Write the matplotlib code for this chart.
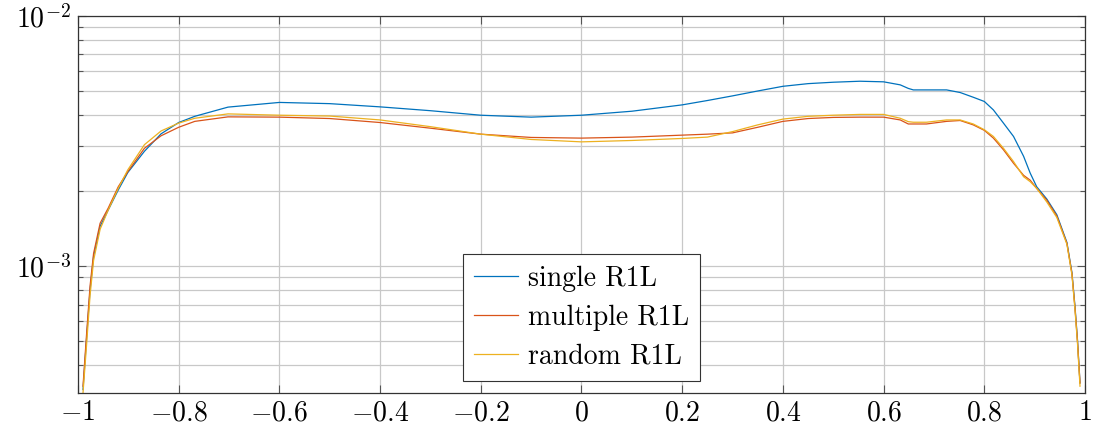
import matplotlib
matplotlib.use('Agg')
import matplotlib.pyplot as plt
import matplotlib.ticker as mticker
import numpy as np

plt.rcParams['font.family'] = ['cmr10', 'DejaVu Serif']
plt.rcParams['mathtext.fontset'] = 'cm'
plt.rcParams['axes.formatter.use_mathtext'] = True

x = [-0.99, -0.983, -0.976, -0.969, -0.956, -0.94, -0.92, -0.901, -0.868, -0.835,
     -0.8, -0.768, -0.702, -0.6, -0.5, -0.4, -0.3, -0.2, -0.1, 0.0,
     0.1, 0.2, 0.25, 0.3, 0.35, 0.4, 0.45, 0.5, 0.553, 0.6,
     0.633, 0.649, 0.659, 0.685, 0.725, 0.752, 0.778, 0.8, 0.818, 0.838,
     0.858, 0.878, 0.891, 0.904, 0.924, 0.944, 0.964, 0.974, 0.98, 0.985, 0.99]

single = [3.2e-4, 5.1e-4, 8.0e-4, 1.09e-3, 1.44e-3, 1.67e-3, 2.01e-3, 2.36e-3, 2.87e-3, 3.37e-3,
          3.74e-3, 3.96e-3, 4.31e-3, 4.5e-3, 4.45e-3, 4.32e-3, 4.17e-3, 4.0e-3, 3.93e-3, 4.0e-3,
          4.15e-3, 4.4e-3, 4.58e-3, 4.78e-3, 5.0e-3, 5.22e-3, 5.35e-3, 5.42e-3, 5.47e-3, 5.44e-3,
          5.29e-3, 5.12e-3, 5.05e-3, 5.05e-3, 5.05e-3, 4.93e-3, 4.72e-3, 4.54e-3, 4.2e-3, 3.72e-3,
          3.29e-3, 2.74e-3, 2.35e-3, 2.07e-3, 1.85e-3, 1.6e-3, 1.24e-3, 9.4e-4, 6.9e-4, 5.06e-4, 3.4e-4]

multiple = [3.3e-4, 5.3e-4, 8.3e-4, 1.12e-3, 1.48e-3, 1.70e-3, 2.07e-3, 2.38e-3, 2.95e-3, 3.31e-3,
            3.58e-3, 3.78e-3, 3.94e-3, 3.93e-3, 3.88e-3, 3.74e-3, 3.55e-3, 3.36e-3, 3.26e-3, 3.24e-3,
            3.27e-3, 3.33e-3, 3.36e-3, 3.40e-3, 3.58e-3, 3.78e-3, 3.88e-3, 3.92e-3, 3.93e-3, 3.93e-3,
            3.83e-3, 3.69e-3, 3.69e-3, 3.69e-3, 3.78e-3, 3.81e-3, 3.66e-3, 3.48e-3, 3.24e-3, 2.91e-3,
            2.57e-3, 2.3e-3, 2.2e-3, 2.04e-3, 1.83e-3, 1.58e-3, 1.23e-3, 9.3e-4, 6.8e-4, 5.0e-4, 3.4e-4]

random_ = [3.1e-4, 4.8e-4, 7.6e-4, 1.05e-3, 1.4e-3, 1.67e-3, 2.04e-3, 2.42e-3, 3.05e-3, 3.46e-3,
           3.72e-3, 3.89e-3, 4.05e-3, 4.0e-3, 3.97e-3, 3.83e-3, 3.6e-3, 3.36e-3, 3.2e-3, 3.13e-3,
           3.17e-3, 3.23e-3, 3.27e-3, 3.44e-3, 3.66e-3, 3.86e-3, 3.96e-3, 4.0e-3, 4.03e-3, 4.03e-3,
           3.89e-3, 3.77e-3, 3.75e-3, 3.75e-3, 3.83e-3, 3.83e-3, 3.69e-3, 3.5e-3, 3.29e-3, 2.95e-3,
           2.61e-3, 2.27e-3, 2.17e-3, 2.04e-3, 1.8e-3, 1.56e-3, 1.22e-3, 9.2e-4, 6.7e-4, 4.9e-4, 3.3e-4]

labels = ['single R1L', 'multiple R1L', 'random R1L']
colours = ['#0072BD', '#D95319', '#EDB120']

xticks = [-1, -0.8, -0.6, -0.4, -0.2, 0, 0.2, 0.4, 0.6, 0.8, 1]
xticklabels = ['$-1$', '$-0.8$', '$-0.6$', '$-0.4$', '$-0.2$', '$0$',
               '$0.2$', '$0.4$', '$0.6$', '$0.8$', '$1$']
yticks = [1e-3, 1e-2]
yticklabels = ['$10^{-3}$', '$10^{-2}$']

fig = plt.figure(figsize=(10.95, 4.3), dpi=100)
ax = fig.add_axes([0.0712, 0.086, 0.9197, 0.8775])

for series, lab, col in zip([single, multiple, random_], labels, colours):
    ax.plot(x, series, color=col, linewidth=0.9, label=lab)

ax.set_yscale('log')
ax.set_xlim(-1, 1)
ax.set_ylim(3.1e-4, 1e-2)

ax.set_xticks(xticks)
ax.set_xticklabels(xticklabels)
ax.set_yticks(yticks)
ax.set_yticklabels(yticklabels)
ax.yaxis.set_minor_locator(mticker.LogLocator(base=10, subs=np.arange(2, 10)))
ax.yaxis.set_minor_formatter(mticker.NullFormatter())

ax.tick_params(which='both', direction='in', top=True, right=True, labelsize=20, color='#555555')
ax.tick_params(which='major', length=6, width=0.8, pad=5)
ax.tick_params(which='minor', length=3.5, width=0.8)

ax.grid(True, which='major', color='#c8c8c8', linewidth=0.9)
ax.grid(True, which='minor', axis='y', color='#c8c8c8', linewidth=0.9)
ax.set_axisbelow(True)

for sp in ax.spines.values():
    sp.set_color('#333333')
    sp.set_linewidth(0.9)

leg = ax.legend(loc='lower center', bbox_to_anchor=(0.5, 0.018), fontsize=20,
                fancybox=False, framealpha=1, edgecolor='#333333',
                handlelength=1.6, handletextpad=0.35, borderpad=0.4, labelspacing=0.45,
                borderaxespad=0.2)
leg.get_frame().set_linewidth(0.8)

plt.savefig('out.png', dpi=100)
